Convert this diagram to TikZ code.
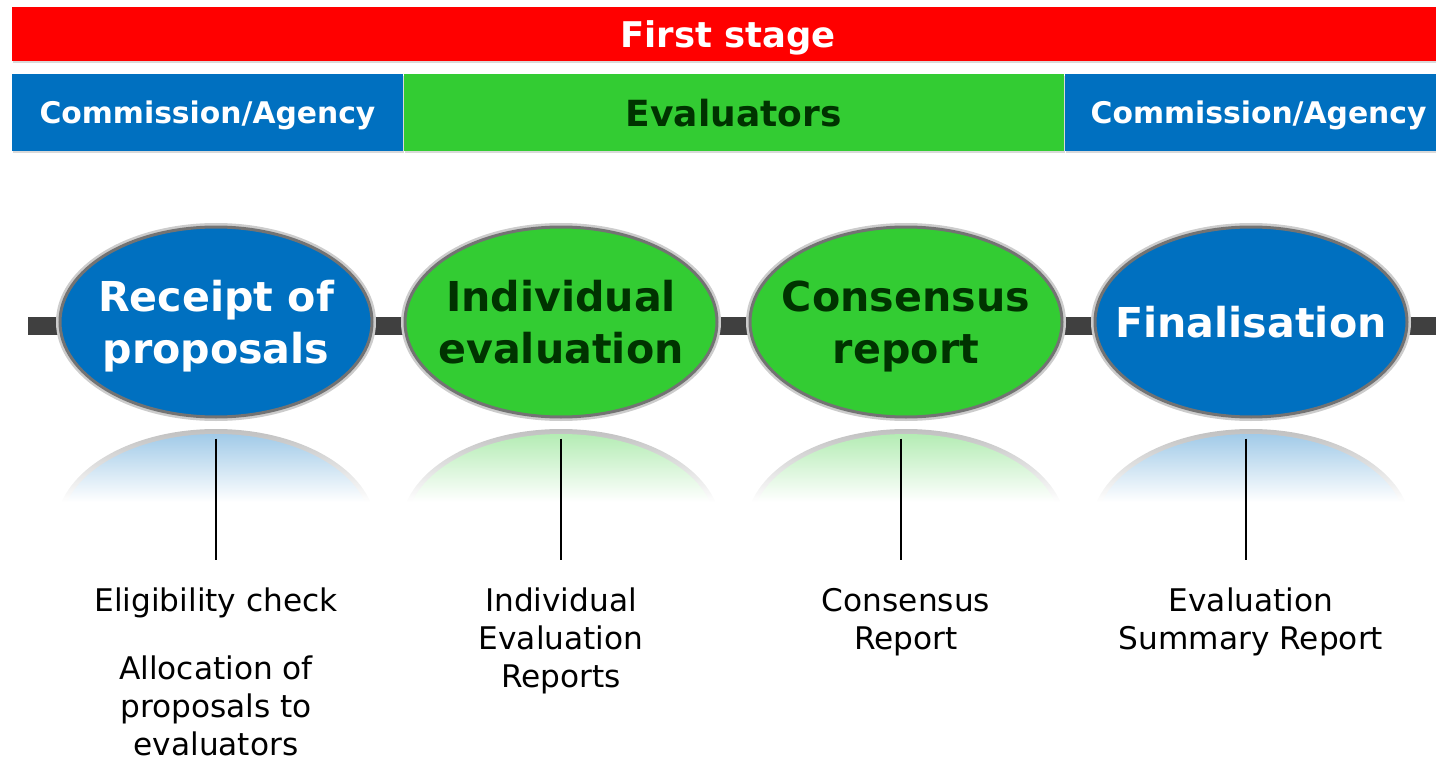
\documentclass[tikz,border=0pt]{standalone}
\usepackage{fontspec}
\setmainfont{DejaVu Sans}
\usepackage{xcolor}
\usetikzlibrary{shapes.geometric,positioning,shadows}

\definecolor{ecblue}{HTML}{0070C0}
\definecolor{ecgreen}{HTML}{33CC33}
\definecolor{ecdark}{HTML}{003300}
\definecolor{barline}{HTML}{404040}

\begin{document}
\begin{tikzpicture}[x=0.5pt,y=-0.5pt,node distance=172.5pt]
  \tikzstyle{band}=[inner sep=0pt, minimum height=38.5pt, text=white, text depth=0pt,
    drop shadow={shadow xshift=0.6pt, shadow yshift=-1.2pt, opacity=0.3}]
  \tikzstyle{phase}=[ellipse, draw=black!55, line width=1.5pt,
    preaction={draw=black!20, line width=4pt},
    minimum width=156pt, minimum height=95pt, inner xsep=-14pt, inner ysep=0pt,
    align=center, text depth=0pt, font=\bfseries\fontsize{20.6}{26}\selectfont]
  \tikzstyle{note}=[align=center, inner sep=0pt,
    font=\fontsize{15.6}{19}\selectfont]
  \tikzstyle{stem}=[line width=1pt, shorten <=10pt, shorten >=14pt]

  \useasboundingbox (0,0) rectangle (1436,765);

  % headers
  \node[band, fill=red, minimum width=716pt, minimum height=27pt,
    font=\bfseries\fontsize{17.7}{20}\selectfont] (stage) at (728,34) {First stage};
  \node[band, fill=ecblue, minimum width=195.5pt,
    font=\bfseries\fontsize{14.9}{18}\selectfont] (comm1) at (207.5,112.5) {Commission/Agency};
  \node[band, fill=ecgreen, minimum width=330pt, text=ecdark,
    font=\bfseries\fontsize{18}{20}\selectfont, right=0pt of comm1] (eval) {Evaluators};
  \node[band, fill=ecblue, minimum width=194pt,
    font=\bfseries\fontsize{14.9}{18}\selectfont, right=0pt of eval] (comm2) {Commission/Agency};

  % time line
  \coordinate (tl) at (28,326);
  \coordinate (tr) at (1436,326);
  \draw[barline, line width=9pt] (tl) -- (tr);

  % reflections
  \foreach \x/\c in {216/ecblue,561/ecgreen,906/ecgreen,1251/ecblue}{
    \begin{scope}
      \clip (\x,528) ellipse (160 and 99);
      \shade[top color=gray!50, bottom color=white] (\x-165,428) rectangle (\x+165,502);
    \end{scope}
    \begin{scope}
      \clip (\x,528) ellipse (155 and 94);
      \shade[top color=\c!40!white, bottom color=white] (\x-165,428) rectangle (\x+165,502);
    \end{scope}
  }

  % phases
  \node[phase, fill=ecblue, text=white] (rec) at (216,322) {Receipt of\\proposals};
  \node[phase, fill=ecgreen, text=ecdark] (ind) [right of=rec] {Individual\\evaluation};
  \node[phase, fill=ecgreen, text=ecdark] (con) [right of=ind] {Consensus\\report};
  \node[phase, fill=ecblue, text=white] (fin) [right of=con] {Finalisation};

  % outputs
  \node[note, below=84.5pt of rec] (l1) {Eligibility check\\[15pt]Allocation of\\proposals to\\evaluators};
  \node[note, below=84.5pt of ind] (l2) {Individual\\Evaluation\\Reports};
  \node[note, below=84.5pt of con] (l3) {Consensus\\Report};
  \node[note, below=84.5pt of fin] (l4) {Evaluation\\Summary Report};

  \draw[stem] (rec.south) -- (l1.north);
  \draw[stem] (ind.south) -- (l2.north);
  \draw[stem] ([xshift=-2.5pt]con.south) -- ([xshift=-2.5pt]con.south |- l3.north);
  \draw[stem] ([xshift=-2.5pt]fin.south) -- ([xshift=-2.5pt]fin.south |- l4.north);
\end{tikzpicture}
\end{document}
